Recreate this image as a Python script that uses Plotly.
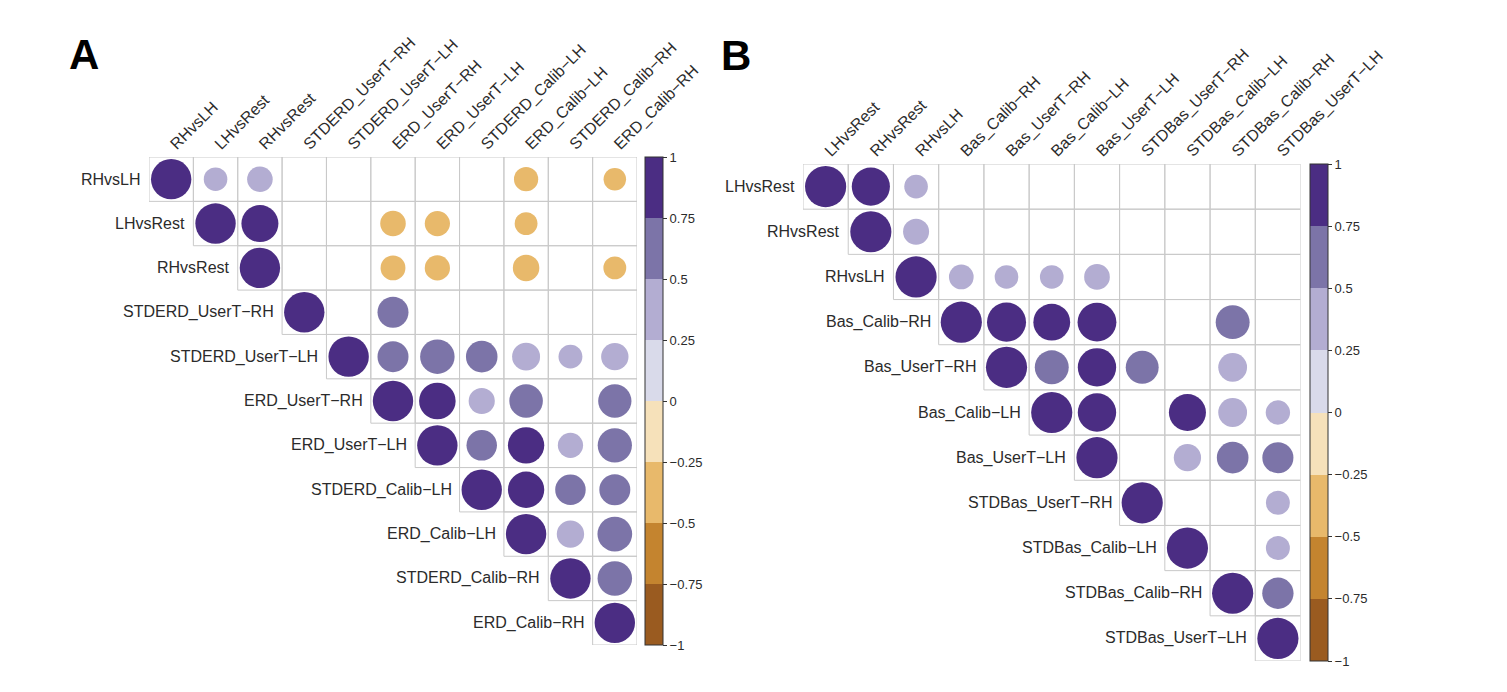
import math
import plotly.graph_objects as go

# ---------------- data ----------------
labels_A = ["RHvsLH", "LHvsRest", "RHvsRest", "STDERD_UserT\u2212RH", "STDERD_UserT\u2212LH",
            "ERD_UserT\u2212RH", "ERD_UserT\u2212LH", "STDERD_Calib\u2212LH", "ERD_Calib\u2212LH",
            "STDERD_Calib\u2212RH", "ERD_Calib\u2212RH"]
# upper triangle, each row starts at the diagonal; None = not shown
corr_A = [
    [1, 0.34, 0.40, None, None, None, None, None, -0.36, None, -0.31],
    [1, 0.84, None, None, -0.40, -0.39, None, -0.32, None, None],
    [1, None, None, -0.38, -0.39, None, -0.43, None, -0.32],
    [1, None, 0.59, None, None, None, None, None],
    [1, 0.59, 0.73, 0.61, 0.48, 0.35, 0.46],
    [1, 0.82, 0.42, 0.69, None, 0.68],
    [1, 0.57, 0.81, 0.39, 0.72],
    [1, 0.81, 0.57, 0.59],
    [1, 0.46, 0.74],
    [1, 0.73],
    [1],
]

labels_B = ["LHvsRest", "RHvsRest", "RHvsLH", "Bas_Calib\u2212RH", "Bas_UserT\u2212RH",
            "Bas_Calib\u2212LH", "Bas_UserT\u2212LH", "STDBas_UserT\u2212RH", "STDBas_Calib\u2212LH",
            "STDBas_Calib\u2212RH", "STDBas_UserT\u2212LH"]
corr_B = [
    [1, 0.86, 0.33, None, None, None, None, None, None, None, None],
    [1, 0.40, None, None, None, None, None, None, None, None],
    [1, 0.36, 0.33, 0.33, 0.39, None, None, None, None],
    [1, 0.90, 0.80, 0.89, None, None, 0.68, None],
    [1, 0.68, 0.87, 0.64, None, 0.49, None],
    [1, 0.87, None, 0.81, 0.49, 0.35],
    [1, None, 0.44, 0.59, 0.57],
    [1, None, None, 0.34],
    [1, None, 0.34],
    [1, 0.58],
    [1],
]

colorbar_ticks = [-1, -0.75, -0.5, -0.25, 0, 0.25, 0.5, 0.75, 1]
bin_colors = ["#9A5B20", "#C4842F", "#E8B96B", "#F6E1BA",
              "#D9DAEA", "#B3ADD2", "#7C74A8", "#4B2D83"]

# ---------------- layout constants ----------------
W, H = 1507, 692
OFF = 8  # the page body adds an 8px margin around the figure
FONT = "Liberation Sans, Arial, Helvetica, sans-serif"
TXT = "#2b2b2b"
GRID = "#C9C9C9"

panels = [
    dict(labels=labels_A, corr=corr_A, x0=149, x1=637, y0=157, y1=645,
         cbx=645, letter="A", lx=67, ly=54, xa="x", ya="y"),
    dict(labels=labels_B, corr=corr_B, x0=803, x1=1300.5, y0=164, y1=661,
         cbx=1310, letter="B", lx=719, ly=55, xa="x2", ya="y2"),
]

colorscale = []
for k, c in enumerate(bin_colors):
    colorscale.append([k / 8, c])
    colorscale.append([(k + 1) / 8, c])


def px_x(v):
    return (v - OFF) / W


def px_y(v):
    return 1 - (v - OFF) / H


fig = go.Figure()
shapes = []
annotations = []

for p_i, p in enumerate(panels):
    n = len(p["labels"])
    cell_px = (p["x1"] - p["x0"]) / n
    xs, ys, vals, sizes = [], [], [], []
    for i, row in enumerate(p["corr"]):
        for k, v in enumerate(row):
            j = i + k
            # grid cell
            shapes.append(dict(type="rect", xref=p["xa"], yref=p["ya"],
                               x0=j - 0.5, x1=j + 0.5, y0=i - 0.5, y1=i + 0.5,
                               line=dict(color=GRID, width=1), fillcolor="rgba(0,0,0,0)",
                               layer="below"))
            if v is None:
                continue
            xs.append(j)
            ys.append(i)
            vals.append(v)
            sizes.append(0.91 * cell_px * math.sqrt(abs(v)))
        # row label at the left of the diagonal cell
        annotations.append(dict(x=i - 0.5, y=i, xref=p["xa"], yref=p["ya"],
                                text=p["labels"][i], showarrow=False,
                                xanchor="right", yanchor="middle", xshift=-6,
                                font=dict(family=FONT, size=16, color=TXT)))
    cb_len = (p["y1"] - p["y0"]) / H
    cb_y = (px_y(p["y0"]) + px_y(p["y1"])) / 2
    fig.add_trace(go.Scatter(
        x=xs, y=ys, mode="markers", xaxis=p["xa"], yaxis=p["ya"],
        hoverinfo="skip", showlegend=False,
        marker=dict(size=sizes, sizemode="diameter", color=vals, cmin=-1, cmax=1,
                    colorscale=colorscale, line=dict(width=0), opacity=1,
                    showscale=True,
                    colorbar=dict(x=px_x(p["cbx"]), xanchor="left", y=cb_y, yanchor="middle",
                                  len=cb_len, lenmode="fraction", thickness=18,
                                  thicknessmode="pixels", xpad=0, ypad=0,
                                  outlinewidth=1, outlinecolor="#333333",
                                  tickvals=colorbar_ticks, ticks="outside", ticklen=4,
                                  tickcolor="#333333",
                                  tickfont=dict(family=FONT, size=13, color=TXT))),
    ))
    annotations.append(dict(x=px_x(p["lx"]), y=px_y(p["ly"]), xref="paper", yref="paper",
                            text="<b>%s</b>" % p["letter"], showarrow=False,
                            xanchor="left", yanchor="middle",
                            font=dict(family=FONT, size=42, color="#000000")))

    xdom = [px_x(p["x0"]), px_x(p["x1"])]
    ydom = [px_y(p["y1"]), px_y(p["y0"])]
    xkey = "xaxis" if p_i == 0 else "xaxis2"
    ykey = "yaxis" if p_i == 0 else "yaxis2"
    fig.update_layout(**{
        xkey: dict(domain=xdom, range=[-0.5, n - 0.5], side="top", tickangle=-45,
                   tickmode="array", tickvals=list(range(n)), ticktext=p["labels"],
                   showgrid=False, zeroline=False, showline=False, ticks="",
                   tickfont=dict(family=FONT, size=16, color=TXT), fixedrange=True,
                   anchor=p["ya"], automargin=False),
        ykey: dict(domain=ydom, range=[n - 0.5, -0.5], showgrid=False, zeroline=False,
                   showline=False, showticklabels=False, ticks="", fixedrange=True,
                   anchor=p["xa"], automargin=False),
    })

fig.update_layout(width=W, height=H,
                  margin=dict(l=0, r=0, t=0, b=0, pad=0, autoexpand=False),
                  paper_bgcolor="white", plot_bgcolor="white",
                  shapes=shapes, annotations=annotations, hovermode=False)

fig.write_html("out.html")
